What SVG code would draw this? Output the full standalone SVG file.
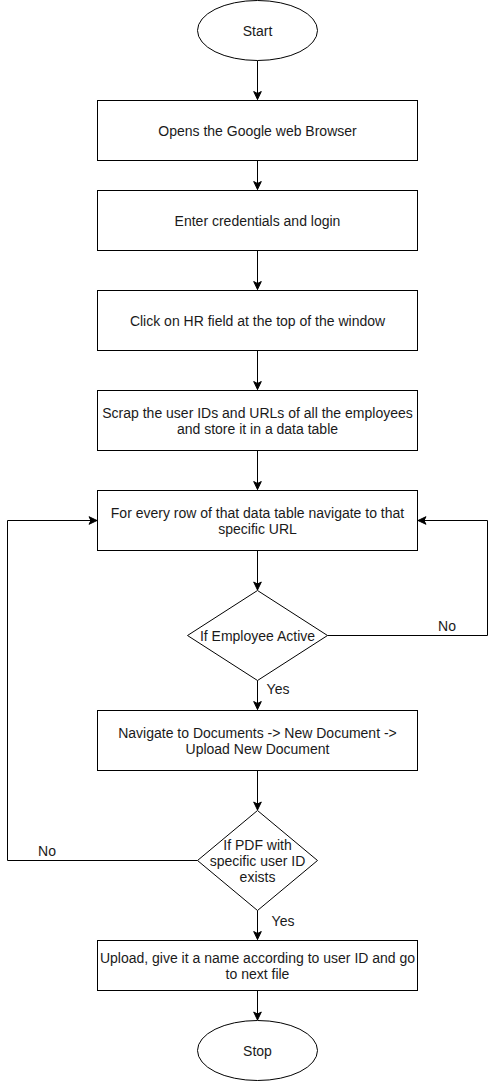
<svg xmlns="http://www.w3.org/2000/svg" width="496" height="1081" viewBox="0 0 496 1081">
<defs>
<style>
.shape{fill:#ffffff;stroke:#000000;stroke-width:1}
.t{font-family:"Liberation Sans",Arial,sans-serif;font-size:14px;fill:#1a1a1a;text-anchor:middle}
.edge{fill:none;stroke:#000000;stroke-width:1}
</style>
<marker id="arr" markerUnits="userSpaceOnUse" markerWidth="10" markerHeight="10" viewBox="0 0 10 10" refX="9" refY="5" orient="auto">
<path d="M1,1.2 L9,5 L1,8.8 L3,5 Z" fill="#000" stroke="#000" stroke-width="1"/>
</marker>
</defs>
<rect width="496" height="1081" fill="#ffffff"/>
<g id="connectors">
<path class="edge" d="M257.5,60.5 V99.5" marker-end="url(#arr)"/>
<path class="edge" d="M257.5,160.5 V189.5" marker-end="url(#arr)"/>
<path class="edge" d="M257.5,250.5 V289.5" marker-end="url(#arr)"/>
<path class="edge" d="M257.5,350.5 V389.5" marker-end="url(#arr)"/>
<path class="edge" d="M257.5,450.5 V489.5" marker-end="url(#arr)"/>
<path class="edge" d="M257.5,550.5 V590" marker-end="url(#arr)"/>
<path class="edge" d="M327.5,635.5 H487.5 V520.5 H418" marker-end="url(#arr)"/>
<path class="edge" d="M257.5,680.5 V709.5" marker-end="url(#arr)"/>
<path class="edge" d="M257.5,770.5 V810" marker-end="url(#arr)"/>
<path class="edge" d="M197.5,860.5 H7.5 V520.5 H97" marker-end="url(#arr)"/>
<path class="edge" d="M257.5,910.5 V939.5" marker-end="url(#arr)"/>
<path class="edge" d="M257.5,990.5 V1020" marker-end="url(#arr)"/>
<text class="t" x="447" y="631">No</text>
<text class="t" x="278" y="694">Yes</text>
<text class="t" x="47" y="856">No</text>
<text class="t" x="283" y="926">Yes</text>
</g>
<g id="start">
<ellipse class="shape" cx="257.5" cy="30.5" rx="60" ry="30"/>
<text class="t" x="257.5" y="36">Start</text>
</g>
<g id="open-browser">
<rect class="shape" x="97.5" y="100.5" width="320" height="60"/>
<text class="t" x="257.5" y="136">Opens the Google web Browser</text>
</g>
<g id="login">
<rect class="shape" x="97.5" y="190.5" width="320" height="60"/>
<text class="t" x="257.5" y="226">Enter credentials and login</text>
</g>
<g id="hr-field">
<rect class="shape" x="97.5" y="290.5" width="320" height="60"/>
<text class="t" x="257.5" y="326">Click on HR field at the top of the window</text>
</g>
<g id="scrap">
<rect class="shape" x="97.5" y="390.5" width="320" height="60"/>
<text class="t" x="257.5" y="418">Scrap the user IDs and URLs of all the employees</text>
<text class="t" x="257.5" y="434">and store it in a data table</text>
</g>
<g id="for-every-row">
<rect class="shape" x="97.5" y="490.5" width="320" height="60"/>
<text class="t" x="257.5" y="518">For every row of that data table navigate to that</text>
<text class="t" x="257.5" y="534">specific URL</text>
</g>
<g id="employee-active">
<path class="shape" d="M257.5,590.5 L327.5,635.5 L257.5,680.5 L187.5,635.5 Z"/>
<text class="t" x="257.5" y="640.5">If Employee Active</text>
</g>
<g id="navigate-documents">
<rect class="shape" x="97.5" y="710.5" width="320" height="60"/>
<text class="t" x="257.5" y="738">Navigate to Documents -&gt; New Document -&gt;</text>
<text class="t" x="257.5" y="754">Upload New Document</text>
</g>
<g id="pdf-exists">
<path class="shape" d="M257.5,810.5 L317.5,860.5 L257.5,910.5 L197.5,860.5 Z"/>
<text class="t" x="257.5" y="850">If PDF with</text>
<text class="t" x="257.5" y="866">specific user ID</text>
<text class="t" x="257.5" y="882">exists</text>
</g>
<g id="upload">
<rect class="shape" x="97.5" y="940.5" width="320" height="50"/>
<text class="t" x="257.5" y="963">Upload, give it a name according to user ID and go</text>
<text class="t" x="257.5" y="979">to next file</text>
</g>
<g id="stop">
<ellipse class="shape" cx="257.5" cy="1050.5" rx="60" ry="30"/>
<text class="t" x="257.5" y="1056">Stop</text>
</g>
</svg>
